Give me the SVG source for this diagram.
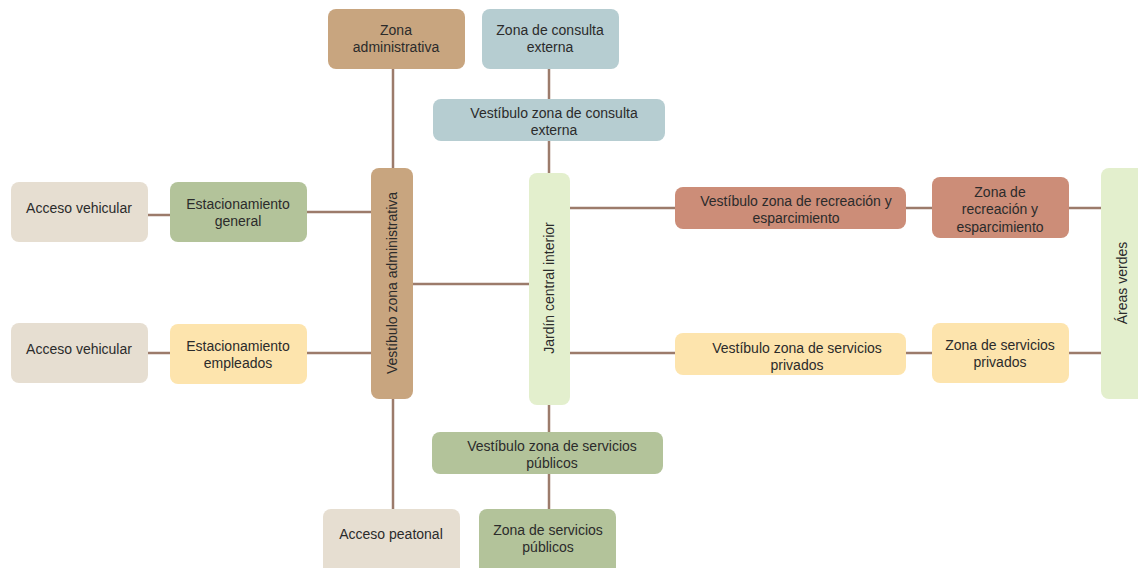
<svg xmlns="http://www.w3.org/2000/svg" width="1138" height="568" viewBox="0 0 1138 568">
<style>
  .n { stroke: none; }
  .t { font-family: "Liberation Sans", Arial, sans-serif; font-size: 14px; fill: #2B2B2B; text-anchor: middle; }
  .c { stroke: #9C7B6B; stroke-width: 2.5; fill: none; }
  .tan { fill: #C8A57F; }
  .blue { fill: #B6CDD1; }
  .beige { fill: #E6DED1; }
  .green { fill: #B3C39A; }
  .yellow { fill: #FDE4AD; }
  .lgreen { fill: #E3EFCD; }
  .salmon { fill: #CC8D78; }
</style>
<rect width="1138" height="568" fill="#FFFFFF"/>
<g id="connectors">
  <line class="c" x1="393" y1="69" x2="393" y2="168"/>
  <line class="c" x1="393" y1="399" x2="393" y2="509"/>
  <line class="c" x1="549" y1="69" x2="549" y2="99"/>
  <line class="c" x1="549" y1="141" x2="549" y2="173"/>
  <line class="c" x1="549" y1="405" x2="549" y2="432"/>
  <line class="c" x1="549" y1="474" x2="549" y2="509"/>
  <line class="c" x1="148" y1="215" x2="170" y2="215"/>
  <line class="c" x1="307" y1="212" x2="371" y2="212"/>
  <line class="c" x1="148" y1="353" x2="170" y2="353"/>
  <line class="c" x1="307" y1="353" x2="371" y2="353"/>
  <line class="c" x1="413" y1="284" x2="529" y2="284"/>
  <line class="c" x1="570" y1="208" x2="675" y2="208"/>
  <line class="c" x1="906" y1="208" x2="932" y2="208"/>
  <line class="c" x1="1069" y1="208" x2="1101" y2="208"/>
  <line class="c" x1="570" y1="353" x2="675" y2="353"/>
  <line class="c" x1="906" y1="353" x2="932" y2="353"/>
  <line class="c" x1="1069" y1="353" x2="1101" y2="353"/>
</g>
<g id="zona-administrativa">
  <rect class="n tan" x="328" y="9" width="137" height="60" rx="8"/>
  <text class="t" x="396" y="35">Zona</text>
  <text class="t" x="396" y="52">administrativa</text>
</g>
<g id="zona-consulta-externa">
  <rect class="n blue" x="482" y="9" width="137" height="60" rx="8"/>
  <text class="t" x="550" y="35">Zona de consulta</text>
  <text class="t" x="550" y="52">externa</text>
</g>
<g id="vestibulo-consulta-externa">
  <rect class="n blue" x="433" y="99" width="232" height="42" rx="8"/>
  <text class="t" x="554" y="118">Vestíbulo zona de consulta</text>
  <text class="t" x="554" y="135">externa</text>
</g>
<g id="acceso-vehicular-1">
  <rect class="n beige" x="11" y="182" width="137" height="60" rx="8"/>
  <text class="t" x="79" y="213">Acceso vehicular</text>
</g>
<g id="estacionamiento-general">
  <rect class="n green" x="170" y="182" width="137" height="60" rx="8"/>
  <text class="t" x="238" y="209">Estacionamiento</text>
  <text class="t" x="238" y="226">general</text>
</g>
<g id="acceso-vehicular-2">
  <rect class="n beige" x="11" y="323" width="137" height="60" rx="8"/>
  <text class="t" x="79" y="354">Acceso vehicular</text>
</g>
<g id="estacionamiento-empleados">
  <rect class="n yellow" x="170" y="324" width="137" height="60" rx="8"/>
  <text class="t" x="238" y="351">Estacionamiento</text>
  <text class="t" x="238" y="368">empleados</text>
</g>
<g id="vestibulo-zona-administrativa">
  <rect class="n tan" x="371" y="168" width="42" height="231" rx="8"/>
  <text class="t" transform="translate(397,283) rotate(-90)">Vestíbulo zona administrativa</text>
</g>
<g id="jardin-central-interior">
  <rect class="n lgreen" x="529" y="173" width="41" height="232" rx="8"/>
  <text class="t" transform="translate(554,288) rotate(-90)">Jardín central interior</text>
</g>
<g id="vestibulo-recreacion">
  <rect class="n salmon" x="675" y="187" width="231" height="42" rx="8"/>
  <text class="t" x="796" y="206">Vestíbulo zona de recreación y</text>
  <text class="t" x="796" y="223">esparcimiento</text>
</g>
<g id="zona-recreacion">
  <rect class="n salmon" x="932" y="177" width="137" height="61" rx="8"/>
  <text class="t" x="1000" y="197">Zona de</text>
  <text class="t" x="1000" y="214">recreación y</text>
  <text class="t" x="1000" y="232">esparcimiento</text>
</g>
<g id="vestibulo-servicios-privados">
  <rect class="n yellow" x="675" y="333" width="231" height="42" rx="8"/>
  <text class="t" x="797" y="353">Vestíbulo zona de servicios</text>
  <text class="t" x="797" y="370">privados</text>
</g>
<g id="zona-servicios-privados">
  <rect class="n yellow" x="932" y="323" width="137" height="60" rx="8"/>
  <text class="t" x="1000" y="350">Zona de servicios</text>
  <text class="t" x="1000" y="367">privados</text>
</g>
<g id="areas-verdes">
  <rect class="n lgreen" x="1101" y="168" width="45" height="231" rx="8"/>
  <text class="t" transform="translate(1127,283) rotate(-90)">Áreas verdes</text>
</g>
<g id="vestibulo-servicios-publicos">
  <rect class="n green" x="432" y="432" width="231" height="42" rx="8"/>
  <text class="t" x="552" y="451">Vestíbulo zona de servicios</text>
  <text class="t" x="552" y="468">públicos</text>
</g>
<g id="acceso-peatonal">
  <rect class="n beige" x="323" y="509" width="137" height="66" rx="8"/>
  <text class="t" x="391" y="539">Acceso peatonal</text>
</g>
<g id="zona-servicios-publicos">
  <rect class="n green" x="479" y="509" width="137" height="66" rx="8"/>
  <text class="t" x="548" y="535">Zona de servicios</text>
  <text class="t" x="548" y="552">públicos</text>
</g>
</svg>
